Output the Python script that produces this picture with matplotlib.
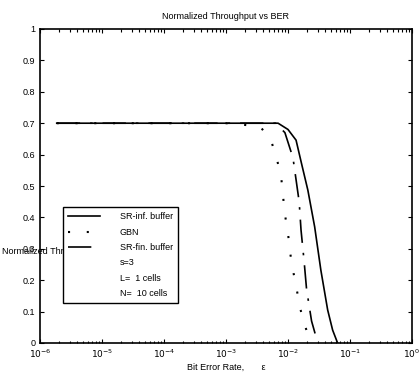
import numpy as np
import matplotlib
matplotlib.use('Agg')
import matplotlib.pyplot as plt
from matplotlib.lines import Line2D

plt.rcParams['font.family'] = ['Liberation Sans', 'DejaVu Sans']

# Data (x as log10 of bit error rate)
sr_inf_logber = [-5.73, -3.0, -2.16, -2.0, -1.87, -1.78, -1.68, -1.57, -1.47, -1.36, -1.28, -1.20]
sr_inf_tp = [0.70, 0.70, 0.70, 0.68, 0.646, 0.57, 0.487, 0.37, 0.232, 0.105, 0.041, 0.0]

gbn_logber = [-5.73, -3.0, -2.45, -2.27, -2.18, -2.11, -2.08, -2.05, -2.00, -1.97, -1.92, -1.86, -1.81, -1.73, -1.63]
gbn_tp = [0.70, 0.70, 0.69, 0.643, 0.586, 0.529, 0.468, 0.41, 0.35, 0.293, 0.232, 0.172, 0.115, 0.057, 0.0]

sr_fin_logber = [-5.73, -3.0, -2.2, -2.05, -1.92, -1.82, -1.79, -1.74, -1.70, -1.62, -1.52]
sr_fin_tp = [0.70, 0.70, 0.70, 0.67, 0.59, 0.45, 0.36, 0.26, 0.17, 0.07, 0.0]

xticks = [1e-6, 1e-5, 1e-4, 1e-3, 1e-2, 1e-1, 1e0]
xticklabels = ['$10^{-6}$', '$10^{-5}$', '$10^{-4}$', '$10^{-3}$', '$10^{-2}$', '$10^{-1}$', '$10^{0}$']
yticks = [0, 0.1, 0.2, 0.3, 0.4, 0.5, 0.6, 0.7, 0.8, 0.9, 1]
yticklabels = ['0', '0.1', '0.2', '0.3', '0.4', '0.5', '0.6', '0.7', '0.8', '0.9', '1']

fig = plt.figure(figsize=(4.2, 3.79), dpi=100)
ax = fig.add_axes([40 / 420, 36 / 379, 372 / 420, 314 / 379])

ax.plot(10 ** np.array(sr_inf_logber), sr_inf_tp, color='black', lw=1.2, label='SR-inf. buffer')
ax.plot(10 ** np.array(gbn_logber), gbn_tp, color='black', lw=1.5, dashes=(1, 8), label='GBN')
ax.plot(10 ** np.array(sr_fin_logber), sr_fin_tp, color='black', lw=1.2,
        dashes=(14, 6, 1.5, 6), label='SR-fin. buffer')

ax.set_xscale('log')
ax.set_xlim(1e-6, 1)
ax.set_ylim(0, 1)
ax.set_xticks(xticks)
ax.set_xticklabels(xticklabels)
ax.set_yticks(yticks)
ax.set_yticklabels(yticklabels)
ax.tick_params(which='both', direction='in', top=True, right=True, labelsize=6.5, width=0.8)
ax.tick_params(which='major', length=3)
ax.tick_params(which='minor', length=1.8)
for s in ax.spines.values():
    s.set_linewidth(1.2)

ax.set_title('Normalized Throughput vs BER', fontsize=6.5, pad=7)
ax.set_xlabel('Bit Error Rate,       \u03b5', fontsize=6.5, labelpad=2)
# y label drawn horizontally; the legend box hides most of it, as in the original
ax.text(2 / 420, 1 - 252 / 379, 'Normalized Throughput', fontsize=6.5, va='center', ha='left',
        transform=fig.transFigure, clip_on=False, zorder=5)

handles, labels = ax.get_legend_handles_labels()
blank = Line2D([], [], color='none')
handles += [blank, blank, blank]
labels += ['s=3', 'L=  1 cells', 'N=  10 cells']
leg = ax.legend(handles, labels, loc='upper left', bbox_to_anchor=(63 / 420, 1 - 207 / 379),
                bbox_transform=fig.transFigure, fontsize=6.5, frameon=True, fancybox=False,
                edgecolor='black', handlelength=3.5, handletextpad=2.2, labelspacing=0.7,
                borderpad=0.6, borderaxespad=0, framealpha=1)
leg.get_frame().set_linewidth(1.0)
leg.set_zorder(10)

fig.savefig('out.png', dpi=100)
